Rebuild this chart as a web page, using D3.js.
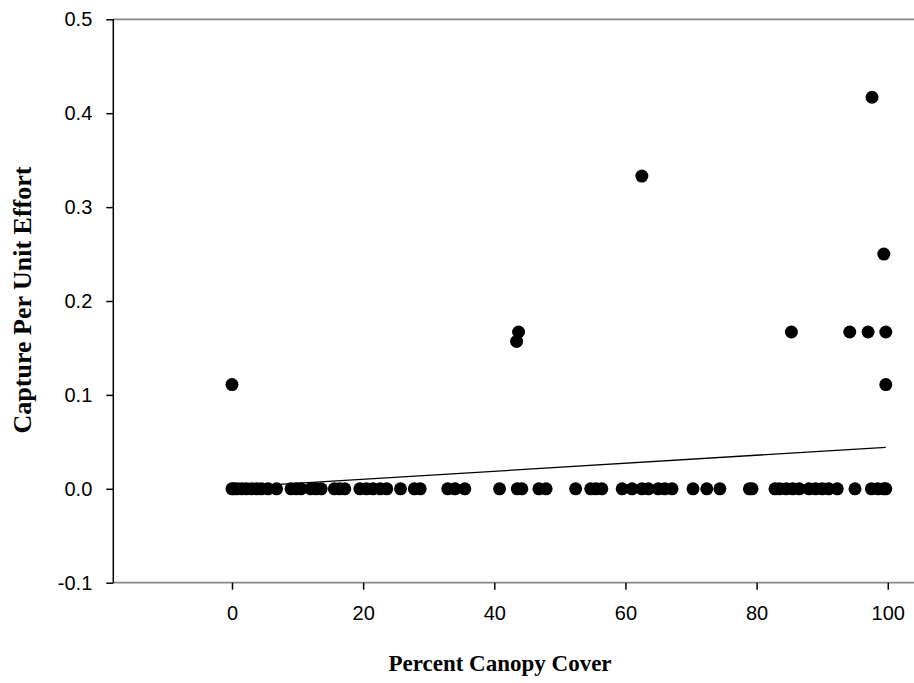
<!DOCTYPE html>
<meta charset="utf-8">
<body style="margin:0;background:#fff">
<style>
  .tick text { font-family: "Liberation Sans", Arial, sans-serif; font-size: 20px; fill: #000; }
  .title { font-family: "Liberation Serif", "Times New Roman", serif; font-weight: bold; fill: #000; }
</style>
<svg width="914" height="683"></svg>
<script src="https://d3js.org/d3.v7.min.js"></script>
<script>

// Data: canopy cover (%) and capture per unit effort
var zeroX = [0, 0.3, 0.8, 1.5, 2.2, 3, 3.8, 4.5, 5.5, 6.8,
             9, 9.8, 10.5, 12, 12.8, 13.6, 15.6, 16.4, 17.2,
             19.5, 20.5, 21.5, 22.6, 23.6, 25.7, 27.8, 28.7,
             32.9, 34, 35.5, 40.8, 43.5, 44.2, 46.8, 47.9,
             52.4, 54.7, 55.5, 56.4, 59.5, 61, 62.5, 63.5, 65, 66, 67.1,
             70.3, 72.4, 74.4, 78.9, 79.3,
             82.8, 83.5, 84.5, 85.5, 86.5, 88, 89, 90, 91, 92.3,
             95, 97.5, 98.5, 99.4, 99.7];
var highX = [0, 43.4, 43.7, 62.5, 85.3, 94.2, 97.0, 97.6, 99.4, 99.7, 99.7];
var highY = [0.111, 0.157, 0.167, 0.333, 0.167, 0.167, 0.167, 0.417, 0.25, 0.167, 0.111];

// regression line endpoints
var lineX = [0, 99.7];
var lineY = [0.0016, 0.0442];

var xTicks = [0, 20, 40, 60, 80, 100];
var yTicks = [-0.1, 0, 0.1, 0.2, 0.3, 0.4, 0.5];

var points = zeroX.map(function (x) { return { x: x, y: 0 }; })
  .concat(highX.map(function (x, i) { return { x: x, y: highY[i] }; }));

var svg = d3.select("svg");

var x = d3.scaleLinear().domain([-18.1, 104]).range([113.3, 914]);
var y = d3.scaleLinear().domain([-0.1, 0.5]).range([582.7, 19.3]);

// top frame line (grey)
svg.append("line")
    .attr("x1", 113.3).attr("x2", 914).attr("y1", y(0.5)).attr("y2", y(0.5))
    .attr("stroke", "#888").attr("stroke-width", 1.8);

// x axis
var xAxis = svg.append("g")
    .attr("transform", "translate(0," + y(-0.1) + ")")
    .call(d3.axisBottom(x).tickValues(xTicks).tickSize(7).tickPadding(16).tickFormat(d3.format("d")));
xAxis.select(".domain").attr("stroke", "#888").attr("stroke-width", 1.8)
    .attr("d", "M113.3,0H914");
xAxis.selectAll(".tick line").attr("stroke", "#000").attr("stroke-width", 1.5);

// y axis
var yAxis = svg.append("g")
    .attr("transform", "translate(113.3,0)")
    .call(d3.axisLeft(y).tickValues(yTicks).tickSize(7).tickPadding(14)
      .tickFormat(function (d) { return d3.format(".1f")(d).replace("−", "-"); }));
yAxis.select(".domain").attr("stroke", "#000").attr("stroke-width", 1.5)
    .attr("d", "M0," + y(-0.1) + "V" + y(0.5));
yAxis.selectAll(".tick line").attr("stroke", "#000").attr("stroke-width", 1.5);

// regression line
svg.append("path")
    .datum(lineX.map(function (v, i) { return [v, lineY[i]]; }))
    .attr("fill", "none")
    .attr("stroke", "#000")
    .attr("stroke-width", 1.3)
    .attr("d", d3.line().x(function (d) { return x(d[0]); }).y(function (d) { return y(d[1]); }));

// points
svg.append("g")
  .selectAll("circle")
  .data(points)
  .enter().append("circle")
    .attr("cx", function (d) { return x(d.x); })
    .attr("cy", function (d) { return y(d.y); })
    .attr("r", 6.5)
    .attr("fill", "#000");

// titles
svg.append("text")
    .attr("class", "title")
    .attr("x", 500).attr("y", 671)
    .attr("text-anchor", "middle")
    .style("font-size", "23px")
    .text("Percent Canopy Cover");
svg.append("text")
    .attr("class", "title")
    .attr("transform", "translate(31,300) rotate(-90)")
    .attr("text-anchor", "middle")
    .style("font-size", "26px")
    .text("Capture Per Unit Effort");
</script>
</body>
